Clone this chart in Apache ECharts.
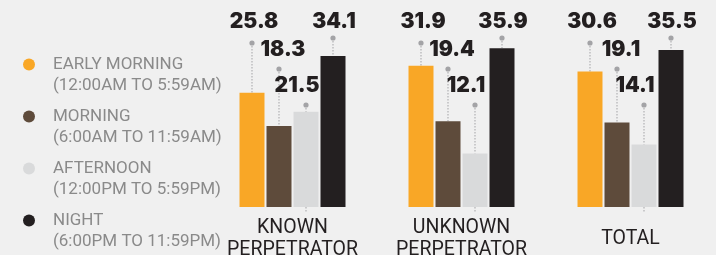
<!DOCTYPE html>
<html>
<head>
<meta charset="utf-8">
<script src="https://cdn.jsdelivr.net/npm/echarts@6/dist/echarts.min.js"></script>
<style>
  html, body { margin: 0; padding: 0; background: #f0f0f0; }
  #chart { width: 716px; height: 255px; }
</style>
</head>
<body>
<div id="chart"></div>
<script>
var categories = ['KNOWN\nPERPETRATOR', 'UNKNOWN\nPERPETRATOR', 'TOTAL']
var seriesNames = [
  'EARLY MORNING\n(12:00AM TO 5:59AM)',
  'MORNING\n(6:00AM TO 11:59AM)',
  'AFTERNOON\n(12:00PM TO 5:59PM)',
  'NIGHT\n(6:00PM TO 11:59PM)'
]
var earlyMorning = [25.8, 31.9, 30.6]
var morning = [18.3, 19.4, 19.1]
var afternoon = [21.5, 12.1, 14.1]
var night = [34.1, 35.9, 35.5]

var values = [earlyMorning, morning, afternoon, night]
var colors = ['#f9a726', '#5e4b3b', '#d9dadb', '#231f20']

// label layout per series (px from grid top): dot height, text row, text x shift
var leader = [
  { dot: 13, text: -8, dx: 2, tail: 0 },
  { dot: 39, text: 20, dx: 4, tail: 0 },
  { dot: 75, text: 55.5, dx: -9, tail: 5 },
  { dot: 8, text: -8, dx: 1, tail: 0 }
]
var BAR_W = 25
var BAR_GAP = 2

var chart = echarts.init(document.getElementById('chart'))

var series = []
values.forEach(function (vals, i) {
  series.push({
    name: seriesNames[i],
    type: 'bar',
    barWidth: BAR_W,
    barGap: '8%',
    barCategoryGap: '37%',
    itemStyle: { color: colors[i] },
    z: 2,
    data: vals
  })
})
values.forEach(function (vals, i) {
  series.push({
    name: 'leader' + i,
    type: 'custom',
    clip: false,
    z: 1,
    silent: true,
    data: vals.map(function (v, k) { return [k, v] }),
    renderItem: function (params, api) {
      var top = api.coord([api.value(0), api.value(1)])
      var base = api.coord([api.value(0), 0])
      var gy = params.coordSys.y
      var x = top[0] + (i - 1.5) * (BAR_W + BAR_GAP)
      var L = leader[i]
      var dotY = gy + L.dot
      return {
        type: 'group',
        children: [
          {
            type: 'line',
            shape: { x1: x, y1: dotY, x2: x, y2: top[1] },
            style: { stroke: '#a3a3a6', lineWidth: 1, lineDash: [1.5, 1.5] }
          },
          {
            type: 'line',
            invisible: !L.tail,
            shape: { x1: x, y1: base[1], x2: x, y2: base[1] + L.tail },
            style: { stroke: '#a3a3a6', lineWidth: 1, lineDash: [1.5, 1.5] }
          },
          {
            type: 'circle',
            shape: { cx: x, cy: dotY, r: 2.6 },
            style: { fill: '#a3a3a6' }
          },
          {
            type: 'text',
            style: {
              text: String(api.value(1)),
              x: x + L.dx,
              y: gy + L.text,
              align: 'center',
              verticalAlign: 'middle',
              fill: '#231f20',
              font: '900 21px Inter'
            }
          }
        ]
      }
    }
  })
})

var option = {
  backgroundColor: '#f0f0f0',
  animation: false,
  legend: {
    data: seriesNames,
    orient: 'vertical',
    left: 23,
    top: 33,
    padding: 0,
    itemGap: -11,
    itemWidth: 12,
    itemHeight: 12,
    icon: 'circle',
    selectedMode: false,
    // blank first line so the dot sits beside the first text line
    formatter: function (name) {
      return '\n' + name
    },
    textStyle: {
      color: '#8a8a8a',
      fontFamily: 'Roboto',
      fontSize: 17,
      lineHeight: 21,
      padding: [0, 0, 0, 13]
    }
  },
  grid: { left: 208, right: 1, top: 30, bottom: 48, outerBoundsMode: 'none', containLabel: false },
  xAxis: {
    type: 'category',
    data: categories,
    axisLine: { show: false },
    axisTick: { show: false },
    axisLabel: {
      interval: 0,
      hideOverlap: false,
      color: '#231f20',
      fontFamily: 'Roboto',
      fontSize: 19.5,
      lineHeight: 22,
      verticalAlign: 'middle',
      margin: 32
    }
  },
  yAxis: {
    type: 'value',
    min: 0,
    max: 40,
    show: false,
    splitLine: { show: false }
  },
  series: series
}

chart.setOption(option)
window.addEventListener('resize', function () {
  chart.resize()
})
</script>
</body>
</html>
